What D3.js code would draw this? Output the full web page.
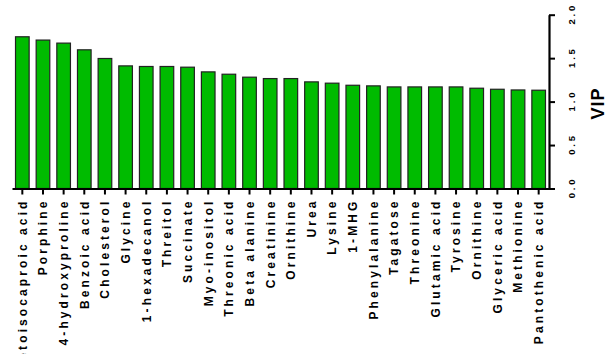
<!DOCTYPE html>
<html><head><meta charset="utf-8">
<script src="https://cdn.jsdelivr.net/npm/d3@7"></script>
<style>html,body{margin:0;padding:0;background:#fff;overflow:hidden}</style>
</head><body>
<svg id="c" width="613" height="354"></svg>
<script>
const categories = ["Ketoisocaproic acid","Porphine","4-hydroxyproline","Benzoic acid","Cholesterol","Glycine","1-hexadecanol","Threitol","Succinate","Myo-inositol","Threonic acid","Beta alanine","Creatinine","Ornithine","Urea","Lysine","1-MHG","Phenylalanine","Tagatose","Threonine","Glutamic acid","Tyrosine","Ornithine","Glyceric acid","Methionine","Pantothenic acid"];
const vipValues = [1.746,1.708,1.673,1.596,1.496,1.411,1.404,1.404,1.396,1.342,1.315,1.281,1.265,1.265,1.227,1.212,1.188,1.181,1.169,1.169,1.169,1.169,1.154,1.142,1.134,1.131];
const yTicks = [0,0.5,1.0,1.5,2.0];
const yTitle = "VIP";

const svg = d3.select("#c");
const x0 = 12, x1 = 549, yTop = 14.7, yBase = 188.5;
const x = d3.scaleBand().domain(d3.range(categories.length)).range([x0, x1]).paddingInner(0.34).paddingOuter(0.17);
const y = d3.scaleLinear().domain([0, 2]).range([yBase, yTop]);

// bars
svg.append("g").selectAll("rect").data(vipValues).join("rect")
  .attr("x", (d,i) => x(i)).attr("width", x.bandwidth())
  .attr("y", d => y(d)).attr("height", d => y(0) - y(d))
  .attr("fill", "#00bb00").attr("stroke", "#222").attr("stroke-width", 1.2);

// x axis
const xa = svg.append("g").attr("transform", `translate(0,${yBase})`)
  .call(d3.axisBottom(x).tickSize(6).tickSizeOuter(0).tickFormat(i => categories[i]));
xa.select(".domain").attr("stroke", "#000").attr("stroke-width", 2.2);
xa.selectAll(".tick line").attr("stroke", "#000").attr("stroke-width", 2);
xa.selectAll(".tick text")
  .attr("transform", "rotate(-90)")
  .attr("x", -10).attr("y", 0).attr("dy", "0.36em")
  .style("text-anchor", "end")
  .style("font-family", "'Liberation Sans', Arial, sans-serif")
  .style("font-weight", "bold").style("font-size", "12px")
  .style("letter-spacing", "3.1px").attr("fill", "#000");

// right y axis
const ya = svg.append("g").attr("transform", `translate(${x1},0)`)
  .call(d3.axisRight(y).tickValues(yTicks).tickSize(6).tickSizeOuter(0).tickFormat(d3.format(".1f")));
ya.select(".domain").attr("stroke", "#000").attr("stroke-width", 2.2);
ya.selectAll(".tick line").attr("stroke", "#000").attr("stroke-width", 2);
ya.selectAll(".tick text")
  .attr("transform", "rotate(-90)")
  .attr("x", 1.5).attr("y", 23).attr("dy", "0.36em")
  .style("text-anchor", "middle")
  .style("font-family", "'Liberation Sans', Arial, sans-serif")
  .style("font-weight", "bold").style("font-size", "9.5px")
  .style("letter-spacing", "2.8px").attr("fill", "#000");

svg.append("text")
  .attr("transform", `translate(598,${(yTop + yBase)/2 + 2}) rotate(-90)`)
  .attr("dy", "0.36em")
  .style("text-anchor", "middle")
  .style("font-family", "'Liberation Sans', Arial, sans-serif")
  .style("font-weight", "bold").style("font-size", "18px")
  .style("letter-spacing", "1px")
  .text(yTitle);
</script>
</body></html>
